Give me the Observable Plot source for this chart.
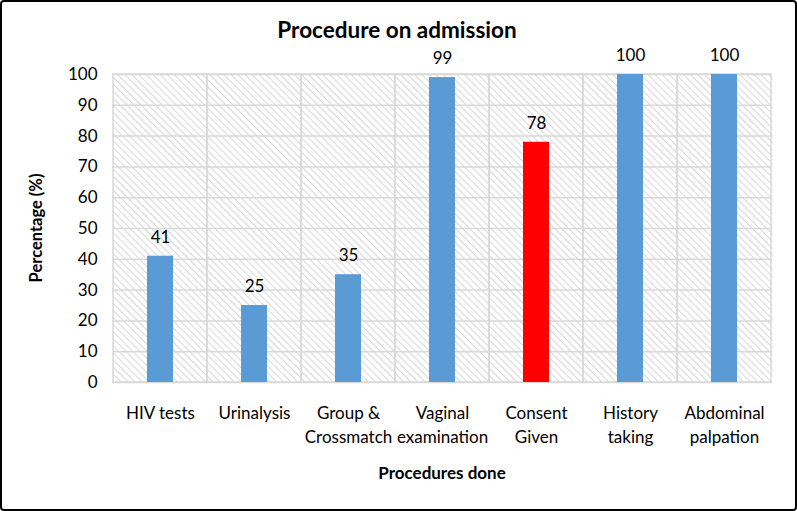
<!DOCTYPE html>
<html><head><meta charset="utf-8">
<script src="https://cdn.jsdelivr.net/npm/d3@7"></script>
<script src="https://cdn.jsdelivr.net/npm/@observablehq/plot@0.6"></script>
<style>
body{margin:0;background:#fff;}
#chart{position:relative;width:797px;height:511px;}
</style></head>
<body><div id="chart"></div>
<script>
const categories = ["HIV tests","Urinalysis","Group & Crossmatch","Vaginal examination","Consent Given","History taking","Abdominal palpation"];
const tickLabels = ["HIV tests","Urinalysis","Group &\nCrossmatch","Vaginal\nexamination","Consent\nGiven","History\ntaking","Abdominal\npalpation"];
const values = [41,25,35,99,78,100,100];
const barColors = ["#5b9bd5","#5b9bd5","#5b9bd5","#5b9bd5","#ff0000","#5b9bd5","#5b9bd5"];
const yTicks = [0,10,20,30,40,50,60,70,80,90,100];

const data = categories.map((c,i)=>({cat:c, value:values[i], color:barColors[i], label:tickLabels[i]}));
const labelOf = new Map(categories.map((c,i)=>[c,tickLabels[i]]));

const W = 797, H = 511;
const plot = Plot.plot({
  width: W, height: H,
  marginLeft: 112, marginRight: 25, marginTop: 74, marginBottom: 129,
  style: {fontFamily: "Lato, 'Open Sans', sans-serif", fontSize: "17px", color: "#000", background: "#fff"},
  x: {domain: categories, padding: 0, label: null},
  y: {domain: [0,100], label: null},
  marks: [
    Plot.frame({fill: "url(#hatch)", stroke: "none"}),
    Plot.ruleY(yTicks, {stroke: "#d9d9d9", strokeWidth: 1.5}),
    Plot.barY(data, {x: "cat", y1: 0, y2: 100, fill: "none", stroke: "#d9d9d9", strokeWidth: 1.5}),
    Plot.barY(data, {x: "cat", y: "value", fill: "color", insetLeft: 34, insetRight: 34}),
    Plot.text(data, {x: "cat", y: "value", text: d => String(d.value), dy: -19, fontSize: 17, fill: "#000"}),
    Plot.axisX({tickSize: 0, tickPadding: 20, tickFormat: d => labelOf.get(d), lineHeight: 1.38, fontSize: 17}),
    Plot.axisY({ticks: yTicks, tickSize: 0, tickPadding: 15, fontSize: 17})
  ]
});
const svg = d3.select(plot);
const defs = svg.insert("defs", ":first-child");
const pat = defs.append("pattern").attr("id","hatch").attr("patternUnits","userSpaceOnUse")
  .attr("width",5).attr("height",5).attr("patternTransform","rotate(-45)");
pat.append("rect").attr("width",5).attr("height",5).attr("fill","#fff");
pat.append("line").attr("x1",0).attr("y1",0).attr("x2",0).attr("y2",5).attr("stroke","#c8c8c8").attr("stroke-width",1.4);
// title and axis labels
svg.append("text").attr("x", 397).attr("y", 38).attr("text-anchor","middle")
  .attr("font-size",22.5).attr("font-weight","bold").attr("fill","#000").text("Procedure on admission");
svg.append("text").attr("transform","translate(42,228) rotate(-90)").attr("text-anchor","middle")
  .attr("font-size",16.5).attr("font-weight","bold").attr("fill","#000").text("Percentage (%)");
svg.append("text").attr("x", 442).attr("y", 479).attr("text-anchor","middle")
  .attr("font-size",17).attr("font-weight","bold").attr("fill","#000").text("Procedures done");
svg.append("rect").attr("x",1).attr("y",1).attr("width",W-2).attr("height",H-2).attr("rx",3)
  .attr("fill","none").attr("stroke","#000").attr("stroke-width",2);
document.getElementById("chart").append(plot);
</script></body></html>
